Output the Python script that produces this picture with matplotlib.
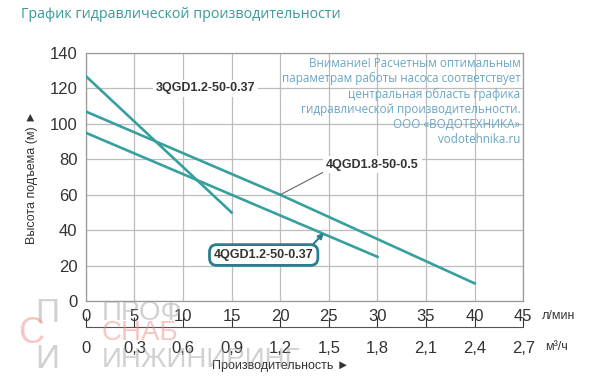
import matplotlib
matplotlib.use("Agg")
import matplotlib.pyplot as plt

plt.rcParams['font.family'] = ['Liberation Sans', 'DejaVu Sans']
narrow = ['Liberation Sans Narrow', 'Liberation Sans', 'DejaVu Sans']

# flow, l/min -> head, m
flow_3qgd12 = [0, 15]
head_3qgd12 = [127, 50]

flow_4qgd18 = [0, 20, 40]
head_4qgd18 = [107, 60, 10]

flow_4qgd12 = [0, 30]
head_4qgd12 = [95, 25]

x_ticks = [0, 5, 10, 15, 20, 25, 30, 35, 40, 45]
y_ticks = [0, 20, 40, 60, 80, 100, 120, 140]
m3h_ticks = [0, 0.3, 0.6, 0.9, 1.2, 1.5, 1.8, 2.1, 2.4, 2.7]

note = ("Внимание! Расчетным оптимальным\n"
        "параметрам работы насоса соответствует\n"
        "центральная область графика\n"
        "гидравлической производительности.\n"
        "ООО «ВОДОТЕХНИКА»\n"
        "vodotehnika.ru")

teal = '#36a09f'
grey_text = '#333333'

fig = plt.figure(figsize=(6, 3.9), dpi=100)
ax = fig.add_axes([0.143, 0.228, 0.729, 0.636])

ax.plot(flow_3qgd12, head_3qgd12, color=teal, lw=1.9, zorder=3)
ax.plot(flow_4qgd18, head_4qgd18, color=teal, lw=1.9, zorder=3)
ax.plot(flow_4qgd12, head_4qgd12, color=teal, lw=1.9, zorder=3)

ax.set_xlim(0, 45)
ax.set_ylim(0, 140)
ax.set_xticks(x_ticks)
ax.set_yticks(y_ticks)
ax.set_xticklabels([str(v) for v in x_ticks])
ax.grid(True, color='#bdbdbd', lw=0.9)
ax.set_axisbelow(True)
for s in ax.spines.values():
    s.set_color('#9a9a9a')
    s.set_linewidth(0.9)
ax.tick_params(length=0, labelsize=12, colors=grey_text, pad=6)
ax.set_ylabel("Высота подъема (м) ►", fontsize=9, color=grey_text, labelpad=8,
              family=narrow)

# second scale, m3/h
sec = ax.secondary_xaxis(-0.105, functions=(lambda q: q * 0.06, lambda q: q / 0.06))
sec.set_xticks(m3h_ticks)
sec.set_xticklabels([f"{v:g}".replace('.', ',') for v in m3h_ticks])
sec.spines['bottom'].set_color('#555555')
sec.tick_params(direction='in', length=7, labelsize=12, colors=grey_text, pad=10)

ax.text(1.043, -0.062, "л/мин", transform=ax.transAxes, fontsize=9,
        color=grey_text, va='center', ha='left', family=narrow)
ax.text(1.05, -0.185, "м³/ч", transform=ax.transAxes, fontsize=9,
        color=grey_text, va='center', ha='left', family=narrow)
fig.text(0.353, 0.062, "Производительность ►", fontsize=9, color=grey_text,
         va='center', family=narrow)

# curve labels
wbox = dict(facecolor='white', edgecolor='none', pad=2)
ax.text(12.3, 120, "3QGD1.2-50-0.37", fontsize=9, fontweight='bold',
        color=grey_text, ha='center', va='center', bbox=wbox, zorder=4)
ax.annotate("4QGD1.8-50-0.5", xy=(20, 60), xytext=(29.5, 77),
            fontsize=9, fontweight='bold', color=grey_text,
            ha='center', va='center', bbox=wbox, zorder=4,
            arrowprops=dict(arrowstyle='-', color='#666666', lw=0.8,
                            shrinkA=0, shrinkB=0, relpos=(0.0, 0.0)))
ax.annotate("4QGD1.2-50-0.37", xy=(24.5, 38.5), xytext=(18.3, 26),
            fontsize=9, fontweight='bold', color=grey_text,
            ha='center', va='center', zorder=4,
            bbox=dict(boxstyle='round,pad=0.35,rounding_size=0.6',
                      facecolor='white', edgecolor='#2b7f8c', lw=2),
            arrowprops=dict(arrowstyle='-|>', color='#2b7f8c', lw=1.5,
                            shrinkA=0, shrinkB=0, relpos=(0.95, 1.0),
                            mutation_scale=8))

ax.text(44.7, 137.8, note, fontsize=8.4, color='#6aa6c2', ha='right', va='top',
        linespacing=1.2, family=['Open Sans', 'DejaVu Sans'], zorder=5)

# watermark logo
fig.text(0.058, 0.197, "П", fontsize=24, color='#9a9a9a', alpha=0.45,
         va='center', ha='left')
fig.text(0.03, 0.146, "С", fontsize=26, color='#f08080', alpha=0.45,
         va='center', ha='left')
fig.text(0.058, 0.077, "И", fontsize=24, color='#9a9a9a', alpha=0.45,
         va='center', ha='left')
fig.text(0.17, 0.197, "ПРОФ", fontsize=20, color='#9a9a9a', alpha=0.45,
         va='center', ha='left')
fig.text(0.17, 0.146, "СНАБ", fontsize=20, color='#f08080', alpha=0.45,
         va='center', ha='left')
fig.text(0.17, 0.077, "ИНЖИНИРИНГ", fontsize=20, color='#9a9a9a', alpha=0.45,
         va='center', ha='left')

fig.text(0.035, 0.962, "График гидравлической производительности", fontsize=10.3,
         color='#3a9a96', va='center', ha='left', family=['Open Sans', 'DejaVu Sans'])

fig.savefig("out.png", dpi=100)
